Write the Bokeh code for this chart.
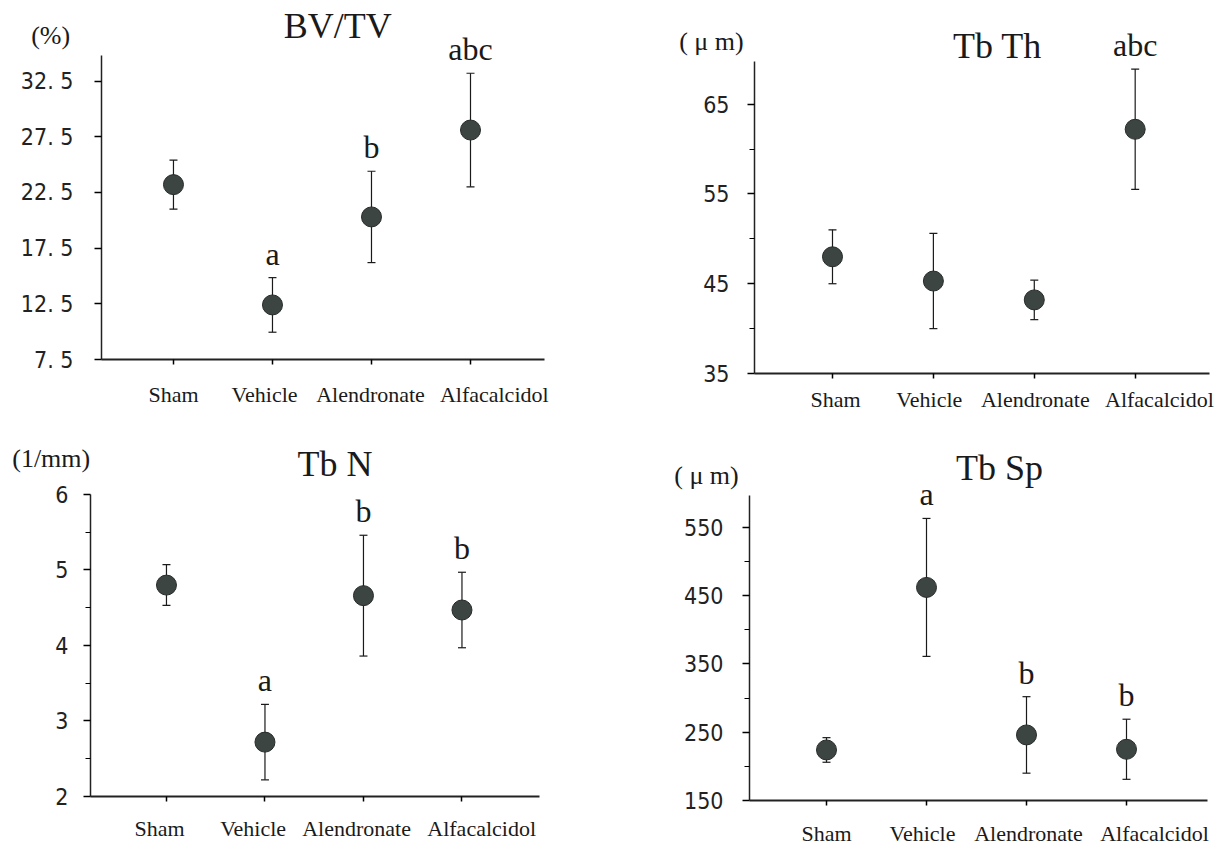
from bokeh.plotting import figure
from bokeh.models import (Range1d, FixedTicker, LinearAxis, Label, Whisker, ColumnDataSource,
                          TeeHead, CustomLabelingPolicy)
from bokeh.layouts import column, row
from bokeh.embed import file_html
from bokeh.resources import INLINE

# ---------------- data ----------------
groups = ["Sham", "Vehicle", "Alendronate", "Alfacalcidol"]
group_x = [1, 2, 3, 4]

# BV/TV (%)
bvtv_mean = [23.2, 12.4, 20.3, 28.1]
bvtv_err = [2.2, 2.45, 4.1, 5.1]
bvtv_sig = ["", "a", "b", "abc"]
bvtv_ticks = [7.5, 12.5, 17.5, 22.5, 27.5, 32.5]
bvtv_tick_labels = ["7. 5", "12. 5", "17. 5", "22. 5", "27. 5", "32. 5"]
bvtv_minor = []

# Tb Th (um)
tbth_mean = [48.0, 45.3, 43.2, 62.2]
tbth_err = [3.0, 5.3, 2.2, 6.7]
tbth_sig = ["", "", "", "abc"]
tbth_ticks = [35, 45, 55, 65]
tbth_tick_labels = ["35", "45", "55", "65"]
tbth_minor = [40, 50, 60]

# Tb N (1/mm)
tbn_mean = [4.8, 2.72, 4.66, 4.47]
tbn_err = [0.27, 0.5, 0.8, 0.5]
tbn_sig = ["", "a", "b", "b"]
tbn_ticks = [2, 3, 4, 5, 6]
tbn_tick_labels = ["2", "3", "4", "5", "6"]
tbn_minor = [2.5, 3.5, 4.5, 5.5]

# Tb Sp (um)
tbsp_mean = [224, 462, 246, 225]
tbsp_err = [18, 101, 56, 44]
tbsp_sig = ["", "a", "b", "b"]
tbsp_ticks = [150, 250, 350, 450, 550]
tbsp_tick_labels = ["150", "250", "350", "450", "550"]
tbsp_minor = [200, 300, 400, 500]

SERIF = "Liberation Serif"
NARROW = "'Liberation Sans Narrow', 'DejaVu Sans Condensed', 'Liberation Sans', sans-serif"
DOT = "#3d4542"
INK = "#1a1a1a"


def panel(w, h, xr, yr, ybounds, xbounds, mean, err, sig, ticks, tick_labels, minor,
          label_pos, title, title_xy, unit, unit_xy, ylab_standoff, xlab_standoff):
    p = figure(width=w, height=h, output_backend="svg", toolbar_location=None,
               x_range=Range1d(*xr), y_range=Range1d(*yr),
               min_border=0, min_border_left=0, min_border_right=0,
               min_border_top=0, min_border_bottom=0,
               background_fill_color="white", border_fill_color="white",
               outline_line_color=None)
    p.grid.visible = False

    # y axis, floating at the left end of the x axis
    ya = p.yaxis[0]
    ya.fixed_location = xbounds[0]
    ya.bounds = ybounds
    ya.ticker = FixedTicker(ticks=ticks, minor_ticks=minor)
    ya.major_label_overrides = {t: l for t, l in zip(ticks, tick_labels)}
    ya.major_label_text_font = NARROW
    ya.major_label_text_font_size = "23px"
    ya.major_label_text_color = "#222222"
    ya.major_label_standoff = ylab_standoff
    ya.major_tick_out = 7
    ya.major_tick_in = 0
    ya.minor_tick_out = 5
    ya.minor_tick_in = 0
    ya.axis_line_width = 1.5
    ya.major_tick_line_width = 1.3
    ya.minor_tick_line_width = 1.2
    ya.axis_line_color = "#222222"

    # x axis: line and tick marks at the groups (no labels)
    xa = p.xaxis[0]
    xa.fixed_location = ybounds[0]
    xa.bounds = xbounds
    xa.ticker = FixedTicker(ticks=group_x, minor_ticks=[])
    xa.major_label_policy = CustomLabelingPolicy(code="for (const i of indices) indices.unset(i)")
    xa.major_tick_out = 5
    xa.major_tick_in = 0
    xa.axis_line_width = 2
    xa.major_tick_line_width = 1.5
    xa.axis_line_color = "#222222"

    # x axis: group names
    la = LinearAxis(ticker=FixedTicker(ticks=label_pos, minor_ticks=[]),
                    fixed_location=ybounds[0],
                    major_label_overrides={t: g for t, g in zip(label_pos, groups)},
                    axis_line_color=None, major_tick_line_color=None,
                    minor_tick_line_color=None, major_label_standoff=xlab_standoff,
                    major_label_text_font=SERIF, major_label_text_font_size="22px",
                    major_label_text_color=INK)
    p.add_layout(la, "below")

    src = ColumnDataSource(dict(x=group_x, m=mean,
                                up=[a + b for a, b in zip(mean, err)],
                                lo=[a - b for a, b in zip(mean, err)]))
    wh = Whisker(source=src, base="x", upper="up", lower="lo", dimension="height",
                 line_color=INK, line_width=1.2,
                 upper_head=TeeHead(size=8, line_color=INK, line_width=1.2),
                 lower_head=TeeHead(size=8, line_color=INK, line_width=1.2))
    p.add_layout(wh)
    p.scatter("x", "m", source=src, size=20, fill_color=DOT, line_color="#262c2a",
              line_width=1)

    for gx, m, e, s in zip(group_x, mean, err, sig):
        if s:
            p.add_layout(Label(x=gx, y=m + e, text=s, y_offset=6, text_align="center",
                               text_baseline="bottom", text_font=SERIF,
                               text_font_size="32px", text_color=INK))

    p.add_layout(Label(x=title_xy[0], y=title_xy[1], text=title, text_align="center",
                       text_baseline="middle", text_font=SERIF, text_font_size="36px",
                       text_color=INK))
    p.add_layout(Label(x=unit_xy[0], y=unit_xy[1], text=unit, text_align="center",
                       text_baseline="middle", text_font=SERIF, text_font_size="26px",
                       text_color=INK))
    return p


p1 = panel(610, 420, (-0.747, 5.414), (2.024, 39.73), (7.5, 34.8), (0.273, 4.748),
           bvtv_mean, bvtv_err, bvtv_sig, bvtv_ticks, bvtv_tick_labels, bvtv_minor,
           [1.0, 1.92, 2.99, 4.24], "BV/TV", (2.66, 37.4), "(%)", (-0.24, 36.6), 21, 16)
p2 = panel(617, 420, (-1.2002, 4.915), (29.77, 76.54), (35, 69.7), (0.227, 4.736),
           tbth_mean, tbth_err, tbth_sig, tbth_ticks, tbth_tick_labels, tbth_minor,
           [1.03, 1.96, 3.01, 4.24], "Tb Th", (2.635, 71.5), "( μ m)", (-0.2, 72.0), 18, 7)
p3 = panel(610, 428, (-0.685, 5.508), (1.311, 6.980), (2, 6), (0.228, 4.786),
           tbn_mean, tbn_err, tbn_sig, tbn_ticks, tbn_tick_labels, tbn_minor,
           [0.93, 1.88, 2.93, 4.2], "Tb N", (2.71, 6.40), "(1/mm)", (-0.17, 6.48), 15, 14)
p4 = panel(617, 428, (-1.16, 5.01), (79.7, 706.4), (150, 596.5), (0.23, 4.81),
           tbsp_mean, tbsp_err, tbsp_sig, tbsp_ticks, tbsp_tick_labels, tbsp_minor,
           [1.0, 1.96, 3.02, 4.28], "Tb Sp", (2.73, 637.5), "( μ m)", (-0.2, 626), 19, 15)

layout = column(row(p1, p2), row(p3, p4))
open("out.html", "w").write(file_html(layout, INLINE))
